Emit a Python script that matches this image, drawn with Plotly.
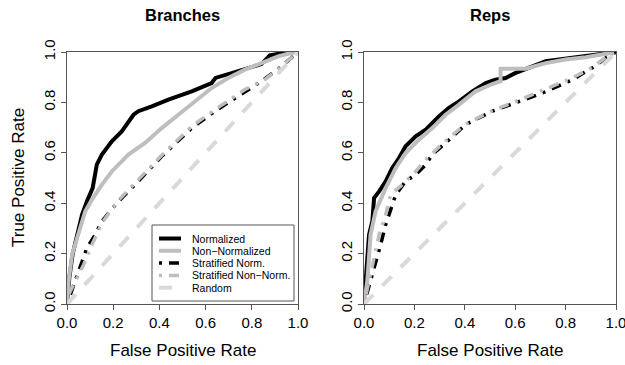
import plotly.graph_objects as go

W, H = 625, 365

# ---------------- data ----------------
panel_titles = ["Branches", "Reps"]
series_names = ["Normalized", "Non\u2212Normalized", "Stratified Norm.",
                "Stratified Non\u2212Norm.", "Random"]
tick_vals = [0.0, 0.2, 0.4, 0.6, 0.8, 1.0]
tick_text = ["0.0", "0.2", "0.4", "0.6", "0.8", "1.0"]

# Branches panel
br_norm_fpr = [0, 0.010, 0.024, 0.043, 0.065, 0.086, 0.111, 0.129, 0.151, 0.194, 0.237, 0.288,
               0.309, 0.367, 0.439, 0.540, 0.626, 0.643, 0.741, 0.842, 0.878, 0.935, 0.986, 1.0]
br_norm_tpr = [0, 0.103, 0.196, 0.275, 0.354, 0.407, 0.460, 0.553, 0.593, 0.646, 0.685, 0.751,
               0.765, 0.784, 0.811, 0.844, 0.877, 0.897, 0.923, 0.952, 0.987, 0.996, 1.0, 1.0]
br_nonnorm_fpr = [0, 0.007, 0.022, 0.050, 0.079, 0.108, 0.151, 0.194, 0.266, 0.338, 0.410,
                  0.482, 0.554, 0.626, 0.698, 0.770, 0.842, 0.914, 0.986, 1.0]
br_nonnorm_tpr = [0, 0.090, 0.196, 0.275, 0.368, 0.414, 0.474, 0.526, 0.593, 0.639, 0.698,
                  0.751, 0.804, 0.857, 0.897, 0.930, 0.956, 0.983, 1.0, 1.0]
br_strat_fpr = [0, 0.043, 0.068, 0.086, 0.122, 0.151, 0.216, 0.295, 0.410, 0.540, 0.640,
                0.770, 0.842, 0.928, 1.0]
br_strat_tpr = [0, 0.110, 0.169, 0.222, 0.275, 0.328, 0.401, 0.474, 0.586, 0.698, 0.765,
                0.844, 0.884, 0.943, 1.0]
br_stratnon_fpr = [0, 0.007, 0.036, 0.072, 0.108, 0.151, 0.216, 0.295, 0.410, 0.540, 0.640,
                   0.770, 0.856, 0.928, 1.0]
br_stratnon_tpr = [0, 0.037, 0.090, 0.156, 0.235, 0.321, 0.405, 0.480, 0.590, 0.705, 0.771,
                   0.851, 0.890, 0.943, 1.0]

# Reps panel
rp_norm_fpr = [0, 0.020, 0.033, 0.040, 0.060, 0.086, 0.112, 0.139, 0.165, 0.205, 0.245, 0.298,
               0.337, 0.377, 0.430, 0.483, 0.522, 0.562, 0.602, 0.668, 0.721, 0.774, 0.840,
               0.906, 0.959, 1.0]
rp_norm_tpr = [0, 0.275, 0.328, 0.421, 0.447, 0.487, 0.540, 0.579, 0.626, 0.665, 0.692, 0.745,
               0.778, 0.804, 0.844, 0.877, 0.890, 0.897, 0.917, 0.943, 0.963, 0.970, 0.979,
               0.989, 0.996, 1.0]
rp_nonnorm_fpr = [0, 0.013, 0.026, 0.046, 0.086, 0.126, 0.165, 0.218, 0.271, 0.324, 0.377,
                  0.443, 0.509, 0.542, 0.542, 0.642, 0.721, 0.800, 0.880, 0.959, 1.0]
rp_nonnorm_tpr = [0, 0.090, 0.275, 0.368, 0.460, 0.540, 0.599, 0.652, 0.698, 0.751, 0.791,
                  0.844, 0.873, 0.884, 0.934, 0.934, 0.956, 0.970, 0.979, 0.992, 1.0]
rp_strat_fpr = [0, 0.033, 0.046, 0.066, 0.086, 0.112, 0.126, 0.165, 0.205, 0.245, 0.271, 0.324,
                0.403, 0.509, 0.602, 0.708, 0.827, 0.906, 0.959, 1.0]
rp_strat_tpr = [0, 0.116, 0.169, 0.235, 0.315, 0.394, 0.434, 0.487, 0.513, 0.553, 0.593, 0.639,
                0.712, 0.765, 0.798, 0.837, 0.890, 0.937, 0.976, 1.0]
rp_stratnon_fpr = [0, 0.020, 0.060, 0.086, 0.106, 0.152, 0.205, 0.251, 0.324, 0.403, 0.509,
                   0.602, 0.708, 0.827, 0.906, 0.959, 1.0]
rp_stratnon_tpr = [0, 0.090, 0.275, 0.354, 0.434, 0.474, 0.526, 0.579, 0.648, 0.714, 0.767,
                   0.804, 0.847, 0.897, 0.939, 0.979, 1.0]

random_fpr = [0, 1]
random_tpr = [0, 1]

panels = [
    [(br_norm_fpr, br_norm_tpr), (br_nonnorm_fpr, br_nonnorm_tpr),
     (br_strat_fpr, br_strat_tpr), (br_stratnon_fpr, br_stratnon_tpr), (random_fpr, random_tpr)],
    [(rp_norm_fpr, rp_norm_tpr), (rp_nonnorm_fpr, rp_nonnorm_tpr),
     (rp_strat_fpr, rp_strat_tpr), (rp_stratnon_fpr, rp_stratnon_tpr), (random_fpr, random_tpr)],
]

# ---------------- styles ----------------
styles = [
    dict(color="#000000", width=4, dash="solid"),
    dict(color="#bebebe", width=4, dash="solid"),
    dict(color="#000000", width=3.5, dash="3px,7px,10px,7px"),
    dict(color="#bebebe", width=3.5, dash="3px,7px,10px,7px"),
    dict(color="#d9d9d9", width=4, dash="13px,13px"),
]

FONT = "Liberation Sans, Arial, Helvetica, sans-serif"

def px(x):
    return x / W

def py(y):
    return 1 - y / H

# panel pixel frames: (left, right), top/bottom
frames = [(67, 298), (364, 616)]
TOP, BOT = 52, 304

fig = go.Figure()
for p, series in enumerate(panels):
    xa = "x" if p == 0 else "x2"
    ya = "y" if p == 0 else "y2"
    for (fx, ty), st, name in zip(series, styles, series_names):
        fig.add_trace(go.Scatter(x=fx, y=ty, mode="lines", name=name, showlegend=False,
                                 line=dict(color=st["color"], width=st["width"], dash=st["dash"]),
                                 xaxis=xa, yaxis=ya, hoverinfo="skip"))

axis_common = dict(range=[0, 1], showgrid=False, zeroline=False, showline=True, mirror=True,
                   linecolor="#555555", linewidth=1, ticks="outside", ticklen=5,
                   tickcolor="#555555", tickwidth=1, tickvals=tick_vals, ticktext=tick_text,
                   tickfont=dict(family=FONT, size=15, color="#000000"), fixedrange=True,
                   automargin=False, ticklabeloverflow="allow")

layout = dict(width=W, height=H, margin=dict(l=0, r=0, t=0, b=0, autoexpand=False),
              plot_bgcolor="white", paper_bgcolor="white", showlegend=False)
for p, (l, r) in enumerate(frames):
    sx = "" if p == 0 else "2"
    layout["xaxis" + sx] = dict(axis_common, domain=[px(l), px(r)],
                                anchor="y" + sx)
    layout["yaxis" + sx] = dict(axis_common, domain=[py(BOT), py(TOP)],
                                anchor="x" + sx, tickangle=-90)
fig.update_layout(**layout)

annotations = []
shapes = []
for p, (l, r) in enumerate(frames):
    cx = (l + r) / 2
    annotations.append(dict(text="<b>%s</b>" % panel_titles[p], x=px(cx), y=py(15),
                            xref="paper", yref="paper", showarrow=False,
                            xanchor="center", yanchor="middle",
                            font=dict(family=FONT, size=16.5, color="#000000")))
    annotations.append(dict(text="False Positive Rate", x=px(cx), y=py(350),
                            xref="paper", yref="paper", showarrow=False,
                            xanchor="center", yanchor="middle",
                            font=dict(family=FONT, size=17, color="#000000")))
annotations.append(dict(text="True Positive Rate", x=px(18), y=py((TOP + BOT) / 2),
                        xref="paper", yref="paper", showarrow=False, textangle=-90,
                        xanchor="center", yanchor="middle",
                        font=dict(family=FONT, size=17, color="#000000")))

# legend (drawn inside Branches panel)
shapes.append(dict(type="rect", xref="paper", yref="paper",
                   x0=px(152), x1=px(294), y0=py(301), y1=py(225),
                   line=dict(color="#555555", width=1), fillcolor="white", layer="above"))
for i, (name, st) in enumerate(zip(series_names, styles)):
    yy = 238.5 + 12.3 * i
    shapes.append(dict(type="line", xref="paper", yref="paper",
                       x0=px(159), x1=px(181), y0=py(yy), y1=py(yy),
                       line=dict(color=st["color"], width=st["width"], dash=st["dash"]),
                       layer="above"))
    annotations.append(dict(text=name, x=px(189.5), y=py(yy), xref="paper", yref="paper",
                            showarrow=False, xanchor="left", yanchor="middle",
                            font=dict(family=FONT, size=10.5, color="#000000")))

fig.update_layout(annotations=annotations, shapes=shapes)
fig.write_html("out.html", config={"displayModeBar": False},
               post_script="document.body.style.margin='0px';"
                           "document.body.style.overflow='hidden';")
